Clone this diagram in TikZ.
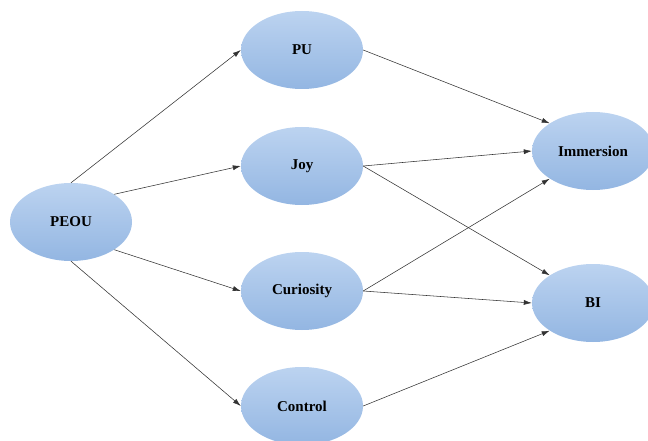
\documentclass[tikz,border=0pt]{standalone}
\usepackage{fontspec}
\setmainfont{Liberation Serif}
\usetikzlibrary{shapes.geometric,arrows.meta}
\definecolor{ellTop}{HTML}{BCD3F0}
\definecolor{ellBot}{HTML}{93B6E2}
\definecolor{lineC}{HTML}{333333}
\tikzset{
  construct/.style={ellipse, minimum width=122pt, minimum height=78pt, inner sep=0pt,
    top color=ellTop, bottom color=ellBot, font=\bfseries\fontsize{15}{17}\selectfont},
  path/.style={draw=lineC, line width=0.55pt, -{Latex[length=8pt,width=5pt]}}
}
\begin{document}
\begin{tikzpicture}[x=1pt,y=-1pt]
\useasboundingbox (0,0) rectangle (648,441);
\node[construct] (peou) at (71,222) {PEOU};
\node[construct] (pu) at (302,50) {PU};
\node[construct] (joy) at (302,166) {Joy};
\node[construct] (cur) at (302,291) {Curiosity};
\node[construct] (ctl) at (302,406) {Control};
\node[construct] (imm) at (593,151) {Immersion};
\node[construct] (bi) at (593,303) {BI};
\draw[path] (peou.north) -- (pu.west);
\draw[path] (peou.north east) -- (joy.west);
\draw[path] (peou.south east) -- (cur.west);
\draw[path] (peou.south) -- (ctl.west);
\draw[path] (pu.east) -- (imm.north west);
\draw[path] (joy.east) -- (imm.west);
\draw[path] (joy.east) -- (bi.north west);
\draw[path] (cur.east) -- (imm.south west);
\draw[path] (cur.east) -- (bi.west);
\draw[path] (ctl.east) -- (bi.south west);
\end{tikzpicture}
\end{document}
